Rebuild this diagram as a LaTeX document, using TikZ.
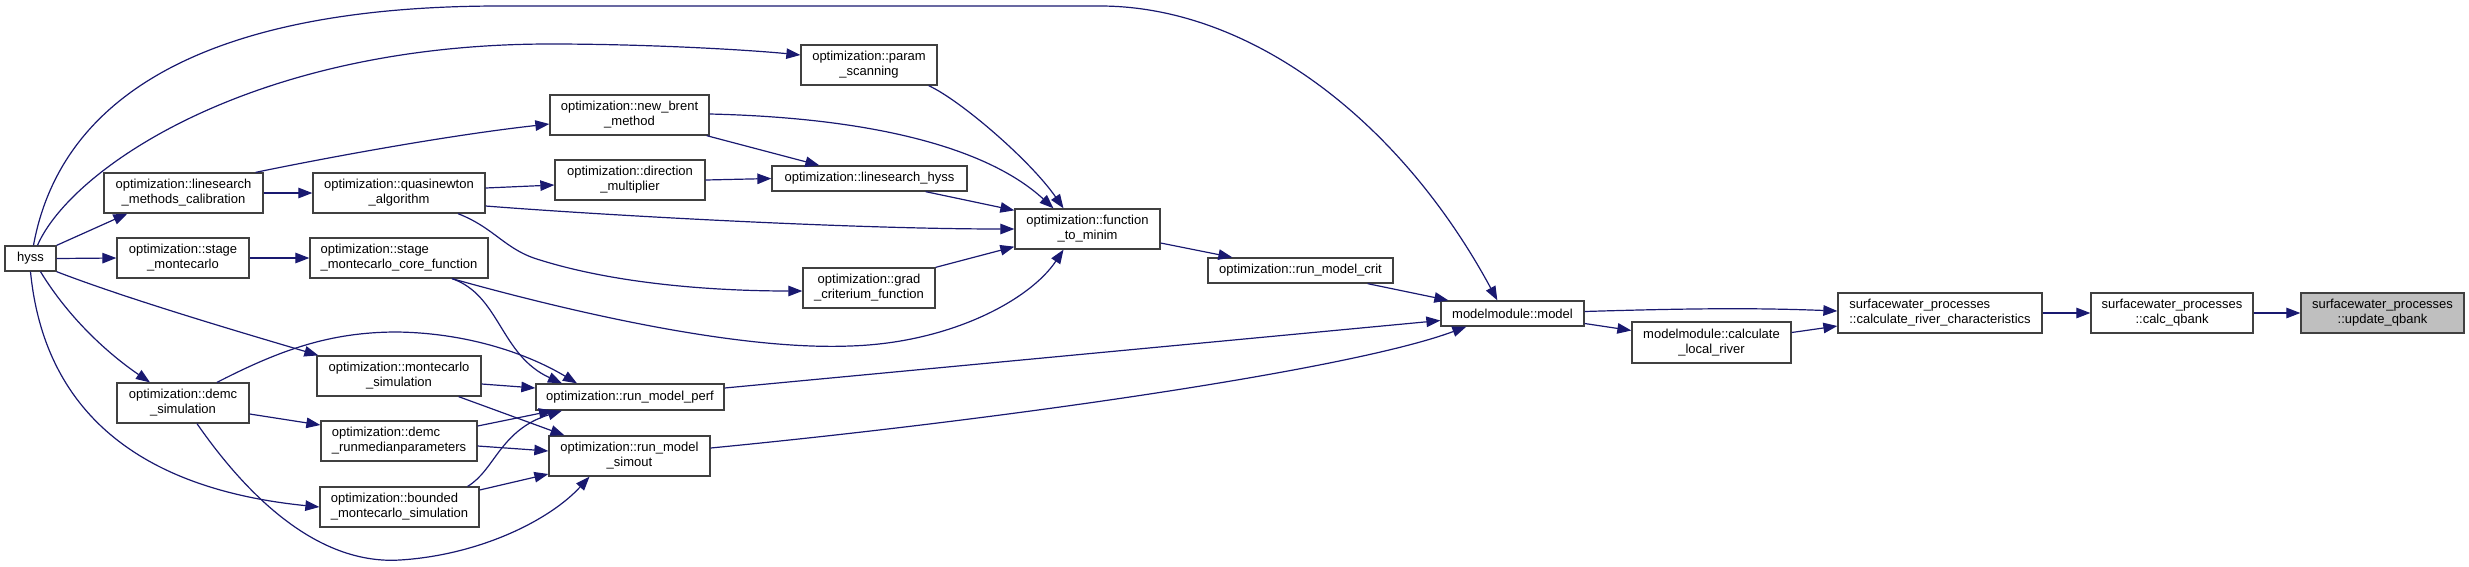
\documentclass[tikz,border=0pt]{standalone}
\usepackage{fontspec}
\newfontfamily\doxfont{Liberation Sans}
\usetikzlibrary{arrows.meta}
\definecolor{callblue}{HTML}{191970}
\definecolor{curgray}{HTML}{BFBFBF}
\tikzstyle{fn}=[draw=black!75,fill=white,line width=1.3pt,inner sep=0pt,minimum height=40pt,align=center,font={\doxfont\fontsize{13pt}{15pt}\selectfont}]
\tikzstyle{call}=[draw=callblue,line width=1.2pt,-{Triangle[length=14pt,width=10.5pt]}]

\begin{document}
\begin{tikzpicture}[x=1pt,y=-1pt]
\useasboundingbox (0,0) rectangle (2469,566);

\node[fn,minimum width=51pt,minimum height=25pt] (hyss) at (30.5,258.5) {hyss};
\node[fn,minimum width=159pt] (lmc) at (183.5,193) {optimization::linesearch\\\_methods\_calibration};
\node[fn,minimum width=132pt] (smc) at (183,258) {optimization::stage\\\_montecarlo};
\node[fn,minimum width=132pt] (demc) at (183,403) {optimization::demc\\\_simulation};
\node[fn,minimum width=172pt] (quasi) at (399,193) {optimization::quasinewton\\\_algorithm};
\node[fn,minimum width=178pt,align=left] (smcf) at (399,258) {optimization::stage\\\_montecarlo\_core\_function};
\node[fn,minimum width=164pt] (msim) at (399,376) {optimization::montecarlo\\\_simulation};
\node[fn,minimum width=156pt,align=left] (drp) at (399,441) {optimization::demc\\\_runmedianparameters};
\node[fn,minimum width=159pt,align=left] (bmc) at (399.5,507) {optimization::bounded\\\_montecarlo\_simulation};
\node[fn,minimum width=159pt] (nbm) at (629.5,115) {optimization::new\_brent\\\_method};
\node[fn,minimum width=150pt] (dirm) at (630,180) {optimization::direction\\\_multiplier};
\node[fn,minimum width=188pt,minimum height=26pt] (rmp) at (630,397) {optimization::run\_model\_perf};
\node[fn,minimum width=161pt] (rms) at (629.5,456) {optimization::run\_model\\\_simout};
\node[fn,minimum width=136pt] (param) at (869,65) {optimization::param\\\_scanning};
\node[fn,minimum width=195pt,minimum height=25pt] (lsh) at (869.5,178.5) {optimization::linesearch\_hyss};
\node[fn,minimum width=132pt] (grad) at (869,288) {optimization::grad\\\_criterium\_function};
\node[fn,minimum width=145pt] (ftm) at (1087.5,229) {optimization::function\\\_to\_minim};
\node[fn,minimum width=185pt,minimum height=25pt] (rmc) at (1300.5,270.5) {optimization::run\_model\_crit};
\node[fn,minimum width=143pt,minimum height=25pt] (model) at (1512.5,313.5) {modelmodule::model};
\node[fn,minimum width=159pt,minimum height=41pt] (clr) at (1711.5,342.5) {modelmodule::calculate\\\_local\_river};
\node[fn,minimum width=204pt,align=left] (crc) at (1940,313) {surfacewater\_processes\\::calculate\_river\_characteristics};
\node[fn,minimum width=162pt] (calcq) at (2172,313) {surfacewater\_processes\\::calc\_qbank};
\node[fn,minimum width=163pt,fill=curgray] (updq) at (2382.5,313) {surfacewater\_processes\\::update\_qbank};

\draw[call] (calcq.east) -- (updq.west);
\draw[call] (crc.east) -- (calcq.west);
\draw[call] ([yshift=2pt]model.east) .. controls (1700,308) and (1760,308) .. ([yshift=2pt]crc.west);
\draw[call] ([yshift=-10pt]model.east) -- ([yshift=12pt]clr.west);
\draw[call] ([yshift=10pt]clr.east) -- ([yshift=-13pt]crc.west);
\draw[call] ([xshift=-26pt]rmc.south east) -- ([xshift=8pt]model.north west);
\draw[call] ([yshift=-14pt]ftm.east) -- ([xshift=25pt]rmc.north west);
\draw[call] ([yshift=9pt]rmp.east) -- ([yshift=-7pt]model.west);
\draw[call] ([yshift=8pt]rms.east) .. controls (1000,420) and (1350,370) .. ([xshift=26pt]model.south west);

\draw[call] ([xshift=3pt]hyss.north) .. controls (60,100) and (200,6) .. (500,6)
      -- (1100,6) .. controls (1250,6) and (1400,120) .. ([xshift=57pt]model.north west);
\draw[call] ([xshift=7pt]hyss.north) .. controls (70,170) and (250,44) .. (550,44)
      .. controls (650,44) and (750,50) .. ([yshift=10pt]param.west);
\draw[call] (hyss.north east) -- ([xshift=24pt]lmc.south west);
\draw[call] (hyss.east) -- (smc.west);
\draw[call] (hyss.south east) .. controls (130,300) and (250,335) .. ([xshift=2pt]msim.north west);
\draw[call] ([xshift=10pt]hyss.south) .. controls (70,320) and (110,355) .. ([xshift=-33pt]demc.north);
\draw[call] (hyss.south) .. controls (45,420) and (150,490) .. (bmc.west);

\draw[call] (smc.east) -- (smcf.west);
\draw[call] (lmc.east) -- (quasi.west);
\draw[call] ([xshift=-8pt]lmc.north east) .. controls (330,157) and (450,135) .. ([yshift=-9pt]nbm.west);
\draw[call] ([yshift=5pt]quasi.east) -- ([yshift=-5pt]dirm.west);
\draw[call] ([yshift=-13pt]quasi.east) .. controls (600,215) and (850,229) .. (ftm.west);
\draw[call] ([xshift=59pt]quasi.south) .. controls (495,228) and (505,250) .. (540,260)
      .. controls (620,285) and (720,291) .. ([yshift=-3pt]grad.west);
\draw[call] ([xshift=-3pt]nbm.south east) -- ([xshift=48pt]lsh.north west);
\draw[call] (dirm.east) -- (lsh.west);
\draw[call] ([yshift=1pt]nbm.east) .. controls (880,118) and (990,150) .. ([xshift=-34pt]ftm.north);
\draw[call] ([xshift=-9pt]param.south east) .. controls (960,100) and (1030,160) .. ([xshift=-24pt]ftm.north);
\draw[call] ([xshift=-42pt]lsh.south east) -- ([yshift=-2pt]ftm.north west);
\draw[call] (grad.north east) -- ([yshift=3pt]ftm.south west);
\draw[call] ([xshift=53pt]smcf.south) .. controls (600,320) and (750,350) .. (850,346)
      .. controls (950,343) and (1030,300) .. ([xshift=-24pt]ftm.south);

\draw[call] ([xshift=53pt]smcf.south) .. controls (500,295) and (500,355) .. ([xshift=-68pt]rmp.north);
\draw[call] ([xshift=34pt]demc.north) .. controls (280,350) and (330,332) .. (397,332)
      .. controls (470,333) and (530,355) .. ([xshift=-53pt]rmp.north);
\draw[call] ([yshift=-8pt]msim.east) -- ([yshift=9pt]rmp.west);
\draw[call] ([xshift=-23pt]msim.south east) -- ([xshift=-65pt]rms.north);
\draw[call] (demc.east |- 0,414) -- (drp.west |- 0,425);
\draw[call] ([yshift=15pt]drp.east) -- ([xshift=-77pt]rmp.south);
\draw[call] ([yshift=-5pt]drp.east) -- ([yshift=5pt]rms.west);
\draw[call] ([xshift=-12pt]bmc.north east) .. controls (495,470) and (500,430) .. ([xshift=-68pt]rmp.south);
\draw[call] ([yshift=17pt]bmc.east) -- ([yshift=-18pt]rms.west);
\draw[call] ([xshift=14pt]demc.south) .. controls (250,500) and (320,565) .. (400,560)
      .. controls (480,555) and (550,520) .. ([xshift=-40pt]rms.south);
\end{tikzpicture}
\end{document}
